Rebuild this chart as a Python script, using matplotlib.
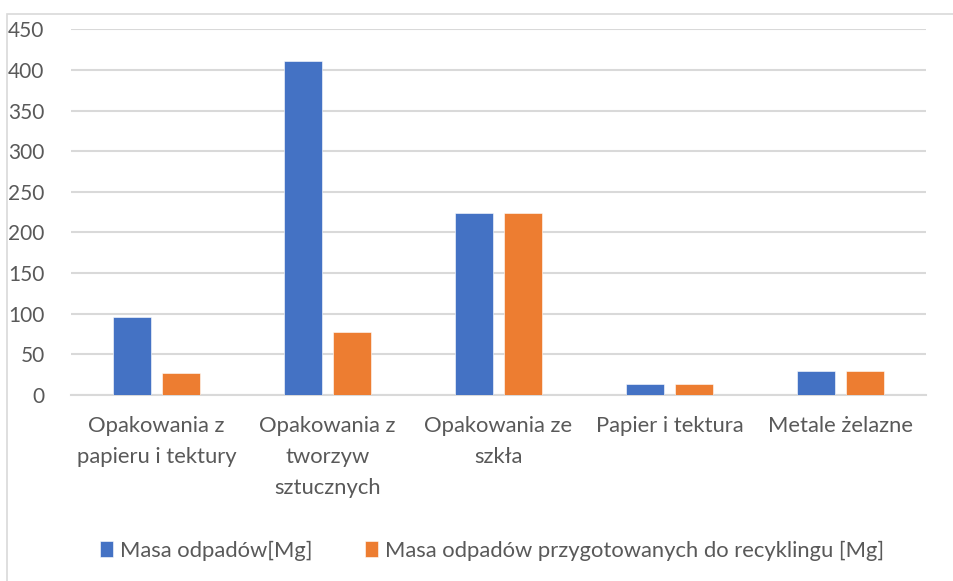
import numpy as np
import matplotlib
matplotlib.use('Agg')
import matplotlib.pyplot as plt
from matplotlib.patches import Rectangle

# data
categories = ['Opakowania z\npapieru i tektury', 'Opakowania z\ntworzyw\nsztucznych',
              'Opakowania ze\nszkła', 'Papier i tektura', 'Metale żelazne']
masa = [96, 411, 224, 14, 30]
recykling = [27, 77, 224, 14, 30]
series_names = ['Masa odpadów[Mg]', 'Masa odpadów przygotowanych do recyklingu [Mg]']
yticks = [0, 50, 100, 150, 200, 250, 300, 350, 400, 450]

plt.rcParams['font.family'] = ['Lato', 'DejaVu Sans']
grey = '#595959'
fs = 15.8

W, H = 954, 581
fig = plt.figure(figsize=(W / 100, H / 100), dpi=100)

# outer chart border (only left and top visible in the crop)
fig.patches.append(Rectangle((7 / W, -0.1), 1.2, 1 - 14 / H + 0.1, transform=fig.transFigure,
                             fill=False, edgecolor='#d9d9d9', linewidth=1.2))

ax = fig.add_axes([71 / W, 1 - 395 / H, (926 - 71) / W, (395 - 29.3) / H])

x = np.arange(len(categories))
bw = 0.222
off = 0.143
ax.bar(x - off, masa, bw, color='#4472C4', edgecolor='white', linewidth=0.4,
       label=series_names[0], zorder=3)
ax.bar(x + off, recykling, bw, color='#ED7D31', edgecolor='white', linewidth=0.4,
       label=series_names[1], zorder=3)

ax.set_xlim(-0.5, len(categories) - 0.5)
ax.set_ylim(0, 450)
ax.set_yticks(yticks)
ax.set_yticklabels([str(t) for t in yticks], fontsize=15, color=grey)
ax.set_xticks(x)
ax.set_xticklabels(categories, fontsize=fs, color=grey, linespacing=1.7)
ax.tick_params(axis='both', length=0)
ax.tick_params(axis='y', pad=19)
ax.tick_params(axis='x', pad=15)

ax.grid(axis='y', color='#d9d9d9', linewidth=1.5, zorder=0)
for s in ['top', 'right', 'left']:
    ax.spines[s].set_visible(False)
ax.spines['bottom'].set_color('#d9d9d9')
ax.spines['bottom'].set_linewidth(1.5)

leg = fig.legend(loc='center', bbox_to_anchor=(492 / W, 1 - 551 / H), ncol=2, frameon=False,
                 fontsize=fs, handlelength=0.6, handleheight=0.75, handletextpad=0.3,
                 columnspacing=2.4)
for t in leg.get_texts():
    t.set_color(grey)

fig.savefig('out.png', dpi=100)
